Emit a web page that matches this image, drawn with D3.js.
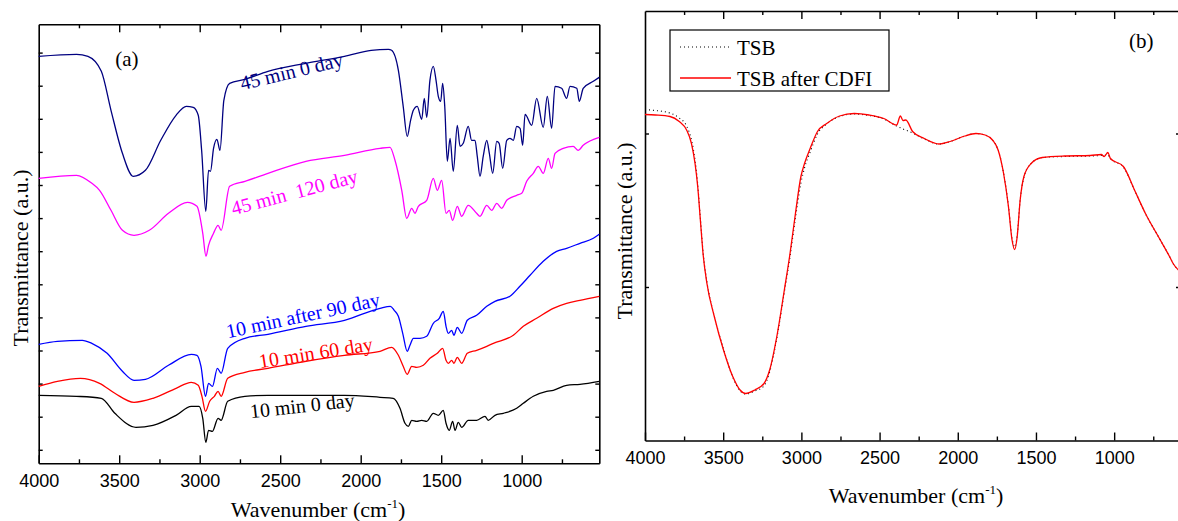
<!DOCTYPE html>
<html>
<head>
<meta charset="utf-8">
<script src="https://cdn.jsdelivr.net/npm/d3@7"></script>
<style>
  body { margin: 0; background: #fff; }
  svg { display: block; }
</style>
</head>
<body>
<div id="chart"></div>
<script>
// wavenumber (cm-1), transmittance (a.u.)

// panel (a)
const min45day0 = [[4000,40.7],[3765,40.9],[3694,40.7],[3611,39.2],[3551,35.3],[3480,31.0],[3413,28.7],[3337,29.3],[3242,32.3],[3147,34.8],[3083,35.7],[3040,35.6],[3009,34.8],[2988,31.3],[2962,25.2],[2945,29.3],[2933,29.2],[2914,31.5],[2893,32.4],[2874,31.3],[2850,36.3],[2814,38.0],[2719,38.4],[2576,39.2],[2340,40.0],[2101,40.7],[1935,41.3],[1828,41.4],[1808,41.3],[1766,39.3],[1736,35.7],[1711,32.7],[1690,34.3],[1673,35.3],[1649,35.7],[1621,34.4],[1605,36.5],[1590,34.6],[1570,38.3],[1549,39.7],[1532,38.3],[1518,36.7],[1503,36.2],[1491,38.0],[1478,35.7],[1462,30.2],[1445,32.5],[1425,29.2],[1400,33.8],[1383,31.7],[1363,32.0],[1332,33.7],[1311,32.3],[1290,32.3],[1276,30.7],[1259,28.7],[1239,30.7],[1217,32.3],[1201,31.0],[1180,29.0],[1155,32.2],[1140,32.0],[1118,29.5],[1093,32.3],[1073,32.5],[1052,32.3],[1031,33.7],[1010,33.5],[994,31.8],[979,34.9],[938,33.8],[907,36.5],[866,33.6],[841,36.7],[814,33.5],[793,37.7],[752,37.5],[721,36.5],[700,37.7],[658,37.5],[642,36.2],[618,37.5],[555,38.2],[518,38.6]];

const min45day120 = [[4000,28.5],[3765,28.8],[3670,28.0],[3622,27.3],[3551,25.3],[3480,23.3],[3408,22.8],[3313,23.3],[3194,25.0],[3076,26.1],[3017,25.7],[2981,23.0],[2961,20.7],[2945,21.8],[2914,23.0],[2886,23.8],[2867,23.3],[2814,27.7],[2719,28.2],[2576,29.0],[2340,30.2],[2101,30.8],[1880,31.5],[1818,31.6],[1787,30.3],[1745,27.3],[1714,24.5],[1683,25.5],[1663,25.0],[1642,25.7],[1590,26.3],[1549,28.5],[1524,27.3],[1497,28.3],[1470,25.0],[1450,25.3],[1429,24.3],[1400,25.7],[1373,24.7],[1332,25.8],[1280,25.0],[1259,24.7],[1217,25.8],[1186,25.3],[1155,26.0],[1124,25.5],[1093,26.3],[1031,26.8],[1000,27.0],[969,28.2],[928,29.0],[897,29.7],[866,29.0],[835,30.5],[814,29.5],[793,31.0],[742,31.5],[680,31.7],[649,31.3],[618,31.8],[518,32.6]];

const min10day90 = [[4000,11.9],[3884,12.2],[3729,12.3],[3670,12.0],[3575,11.0],[3480,9.2],[3408,8.3],[3337,8.4],[3194,9.8],[3052,10.9],[3017,10.8],[2992,9.7],[2964,6.7],[2945,8.0],[2921,7.7],[2890,9.5],[2867,9.0],[2826,11.5],[2719,12.5],[2576,12.9],[2340,13.7],[2101,14.3],[1880,15.5],[1816,15.7],[1792,15.3],[1766,14.7],[1739,13.0],[1711,11.2],[1694,11.8],[1673,12.5],[1632,12.5],[1590,12.7],[1549,14.0],[1512,14.5],[1487,15.2],[1470,13.7],[1456,13.0],[1435,13.3],[1421,12.8],[1400,13.6],[1373,13.0],[1338,14.3],[1280,14.8],[1217,15.7],[1166,16.2],[1073,16.7],[1011,17.7],[948,18.8],[866,20.2],[783,21.2],[721,21.5],[638,22.0],[555,22.5],[518,22.9]];

const min10day60 = [[4000,7.7],[3884,8.2],[3741,8.5],[3622,8.0],[3527,7.0],[3408,6.1],[3290,6.5],[3147,7.5],[3052,8.1],[3009,7.8],[2986,6.7],[2964,5.2],[2938,6.2],[2909,6.7],[2886,7.2],[2867,6.7],[2826,8.5],[2719,9.1],[2576,9.5],[2340,10.2],[2101,10.8],[1880,11.2],[1808,11.6],[1766,10.8],[1736,9.7],[1711,8.9],[1683,9.7],[1652,9.6],[1611,9.8],[1570,10.5],[1524,11.0],[1491,11.5],[1470,10.3],[1456,10.0],[1435,10.3],[1421,10.0],[1400,10.6],[1373,10.0],[1338,11.0],[1280,11.3],[1217,11.7],[1176,12.0],[1052,12.8],[990,13.7],[907,14.5],[804,15.5],[721,16.0],[638,16.3],[518,16.7]];

const min10day0 = [[4000,6.8],[3765,6.7],[3611,6.5],[3527,5.0],[3396,3.6],[3290,3.8],[3147,4.8],[3052,5.7],[3004,5.7],[2981,4.5],[2962,2.1],[2945,3.3],[2921,3.2],[2886,4.5],[2867,4.3],[2826,6.2],[2719,6.7],[2576,6.8],[2340,6.8],[2101,6.8],[1880,6.6],[1798,6.5],[1756,5.5],[1725,4.0],[1704,3.7],[1683,4.3],[1652,4.2],[1621,4.3],[1590,4.2],[1549,5.0],[1518,4.8],[1487,5.3],[1470,4.0],[1450,3.3],[1429,4.2],[1414,3.3],[1394,4.1],[1373,3.6],[1332,4.3],[1280,4.3],[1228,4.7],[1208,4.3],[1166,4.8],[1114,5.0],[1031,5.5],[990,6.0],[928,6.7],[845,7.2],[804,7.3],[721,7.8],[638,7.9],[518,8.2]];

// panel (b)
const tsb = [[4000,33.1],[3934,33.0],[3840,32.75],[3781,32.25],[3734,31.45],[3703,30.05],[3680,28.05],[3663,25.65],[3646,22.25],[3628,18.75],[3604,15.85],[3557,12.45],[3498,9.15],[3439,6.35],[3392,4.95],[3357,4.65],[3298,4.95],[3239,5.45],[3203,6.85],[3157,10.25],[3109,14.85],[3074,18.25],[3038,22.25],[3003,25.75],[2980,27.25],[2944,28.85],[2897,30.65],[2838,31.65],[2756,32.4],[2662,32.65],[2567,32.5],[2473,32.15],[2391,31.45],[2350,31.15],[2289,30.75],[2214,30.15],[2120,29.65],[2049,29.9],[1955,30.45],[1884,30.7],[1825,30.55],[1778,30.05],[1742,29.05],[1707,26.75],[1676,23.45],[1653,20.25],[1636,19.35],[1620,20.55],[1601,24.05],[1577,26.35],[1531,27.7],[1460,28.3],[1318,28.4],[1153,28.45],[1082,28.5],[1040,28.55],[1024,28.2],[941,27.35],[870,25.05],[800,22.7],[705,20.05],[646,18.4],[623,17.7],[579,16.9]];

const tsbCdfi = [[4000,32.6],[3934,32.55],[3840,32.4],[3781,31.9],[3734,31.05],[3703,29.7],[3680,27.7],[3663,25.4],[3646,22.05],[3628,18.55],[3604,15.7],[3557,12.4],[3498,9.05],[3439,6.4],[3392,5.05],[3357,4.7],[3298,5.05],[3239,5.7],[3203,7.05],[3157,10.4],[3109,15.05],[3074,18.55],[3038,22.7],[3003,26.4],[2980,27.7],[2944,29.2],[2897,30.9],[2838,31.7],[2756,32.45],[2662,32.7],[2567,32.55],[2473,32.2],[2391,31.55],[2367,32.45],[2350,32.0],[2332,32.05],[2289,30.9],[2214,30.2],[2120,29.65],[2049,29.9],[1955,30.45],[1884,30.7],[1825,30.55],[1778,30.05],[1742,29.05],[1707,26.7],[1676,23.4],[1653,20.05],[1636,19.1],[1620,20.4],[1601,24.05],[1577,26.4],[1531,27.7],[1460,28.3],[1318,28.45],[1153,28.5],[1082,28.6],[1064,28.4],[1040,28.8],[1024,28.2],[941,27.4],[870,25.05],[800,22.7],[705,20.05],[646,18.4],[623,17.7],[579,16.9]];

const majorTicks = [4000, 3500, 3000, 2500, 2000, 1500, 1000];
const minorTicks = [3750, 3250, 2750, 2250, 1750, 1250, 750];
const yTicksA = d3.range(13).map(k => 1.35 + 3.31 * k);
const yTicksB = [15.35, 30.7];

const seriesA = [
  { name: "45 min 0 day", data: min45day0, color: "#000080" },
  { name: "45 min\u00a0\u00a0120 day", data: min45day120, color: "#ff00ff" },
  { name: "10 min after 90 day", data: min10day90, color: "#0000ff" },
  { name: "10 min 60 day", data: min10day60, color: "#ff0000" },
  { name: "10 min 0 day", data: min10day0, color: "#000000" }
];
// label anchor (wavenumber, a.u.) and slope in degrees
const labelsA = [[2737, 37.3, -13.5], [2791, 24.8, -14.8], [2826, 12.5, -12], [2625, 9.5, -9], [2683, 4.5, -6.4]];

const width = 1178, height = 521;
const serif = "'Liberation Serif','Times New Roman',Times,serif";
const sans = "'Liberation Sans',Arial,Helvetica,sans-serif";

const svg = d3.select("#chart")
  .append("svg")
  .attr("width", width)
  .attr("height", height)
  .attr("viewBox", [0, 0, width, height]);

const xA = d3.scaleLinear().domain([4000, 518]).range([38.7, 599.3]);
const yA = d3.scaleLinear().domain([0, 43.9]).range([463.3, 24.3]);
const xB = d3.scaleLinear().domain([4000, 579]).range([645, 1180]);
const yB = d3.scaleLinear().domain([0, 42.95]).range([440.5, 11]);

function frame(x, y, yTicks) {
  const [x0, x1] = x.range(), [y0, y1] = y.range();
  const style = g => {
    g.select(".domain").attr("stroke-width", 1.6);
    g.selectAll(".tick line").attr("stroke-width", 1.4);
    g.selectAll(".tick text").attr("font-family", sans).attr("font-size", 18).attr("fill", "#000");
  };

  // bottom, labelled
  svg.append("g")
    .attr("transform", `translate(0,${y0})`)
    .call(d3.axisBottom(x).tickValues(majorTicks).tickSize(-8).tickSizeOuter(0)
      .tickPadding(11).tickFormat(d3.format("d")))
    .call(style);
  svg.append("g")
    .attr("transform", `translate(0,${y0})`)
    .call(d3.axisBottom(x).tickValues(minorTicks).tickSize(-4).tickFormat(""))
    .call(g => g.select(".domain").remove())
    .call(style);

  // top mirror
  svg.append("g")
    .attr("transform", `translate(0,${y1})`)
    .call(d3.axisTop(x).tickValues(majorTicks.slice(1)).tickSize(-8).tickSizeOuter(0).tickFormat(""))
    .call(style);
  svg.append("g")
    .attr("transform", `translate(0,${y1})`)
    .call(d3.axisTop(x).tickValues(minorTicks).tickSize(-4).tickFormat(""))
    .call(g => g.select(".domain").remove())
    .call(style);

  // left and right, unlabelled
  svg.append("g")
    .attr("transform", `translate(${x0},0)`)
    .call(d3.axisLeft(y).tickValues(yTicks).tickSize(-4).tickSizeOuter(0).tickFormat(""))
    .call(style);
  svg.append("g")
    .attr("transform", `translate(${x1},0)`)
    .call(d3.axisRight(y).tickValues(yTicks).tickSize(-4).tickSizeOuter(0).tickFormat(""))
    .call(style);
}

function titles(cx, xBase, yx, cy) {
  const t = svg.append("text")
    .attr("x", cx).attr("y", xBase)
    .attr("text-anchor", "middle")
    .attr("font-family", serif).attr("font-size", 22);
  t.append("tspan").text("Wavenumber (cm");
  t.append("tspan").attr("font-size", 13).attr("dy", -9).text("-1");
  t.append("tspan").attr("dy", 9).text(")");

  svg.append("text")
    .attr("transform", `translate(${yx},${cy}) rotate(-90)`)
    .attr("text-anchor", "middle")
    .attr("font-family", serif).attr("font-size", 22)
    .text("Transmittance (a.u.)");
}

// ---- panel (a) ----
frame(xA, yA, yTicksA);

const lineA = d3.line()
  .x(d => xA(d[0]))
  .y(d => yA(d[1]))
  .curve(d3.curveMonotoneX);

seriesA.forEach((s, i) => {
  svg.append("path")
    .datum(s.data)
    .attr("fill", "none")
    .attr("stroke", s.color)
    .attr("stroke-width", 1.3)
    .attr("d", lineA);

  const [w, v, a] = labelsA[i];
  svg.append("text")
    .attr("transform", `translate(${xA(w)},${yA(v)}) rotate(${a})`)
    .attr("font-family", serif).attr("font-size", 20)
    .attr("fill", s.color)
    .text(s.name);
});

svg.append("text")
  .attr("x", xA(3525)).attr("y", yA(39.7))
  .attr("font-family", serif).attr("font-size", 21)
  .text("(a)");

titles(318, 517, 28, 258);

// ---- panel (b) ----
frame(xB, yB, yTicksB);

const lineB = d3.line()
  .x(d => xB(d[0]))
  .y(d => yB(d[1]))
  .curve(d3.curveMonotoneX);

svg.append("path")
  .datum(tsb)
  .attr("fill", "none")
  .attr("stroke", "#000")
  .attr("stroke-width", 1.1)
  .attr("stroke-dasharray", "1,3")
  .attr("d", lineB);

svg.append("path")
  .datum(tsbCdfi)
  .attr("fill", "none")
  .attr("stroke", "#ff0000")
  .attr("stroke-width", 1.3)
  .attr("d", lineB);

svg.append("text")
  .attr("x", xB(905)).attr("y", yB(39.3))
  .attr("font-family", serif).attr("font-size", 21)
  .text("(b)");

// legend
const legend = svg.append("g");
legend.append("rect")
  .attr("x", 670).attr("y", 30).attr("width", 219).attr("height", 61)
  .attr("fill", "#fff").attr("stroke", "#000").attr("stroke-width", 1.2);
legend.append("line")
  .attr("x1", 680).attr("x2", 731).attr("y1", 47).attr("y2", 47)
  .attr("stroke", "#000").attr("stroke-width", 1.1).attr("stroke-dasharray", "1,3");
legend.append("line")
  .attr("x1", 680).attr("x2", 731).attr("y1", 78).attr("y2", 78)
  .attr("stroke", "#ff0000").attr("stroke-width", 1.3);
legend.append("text")
  .attr("x", 737).attr("y", 55)
  .attr("font-family", serif).attr("font-size", 21)
  .text("TSB");
legend.append("text")
  .attr("x", 737).attr("y", 86)
  .attr("font-family", serif).attr("font-size", 21)
  .text("TSB after CDFI");

titles(916, 503, 632, 231);
</script>
</body>
</html>
